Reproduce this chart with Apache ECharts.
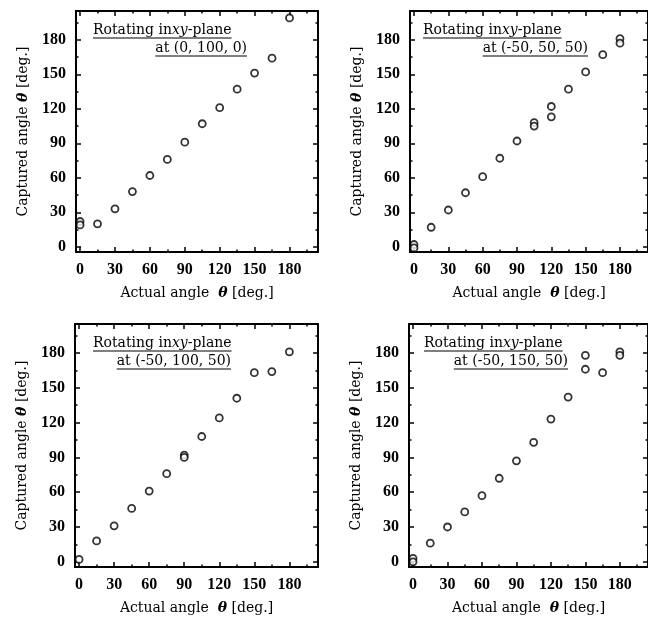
<!DOCTYPE html>
<html><head><meta charset="utf-8">
<script src="https://cdn.jsdelivr.net/npm/echarts@6/dist/echarts.min.js"></script>
<style>html,body{margin:0;padding:0;background:#fff}#c{width:648px;height:624px}</style>
</head><body><div id="c"></div>
<script>
// ---- data ----
const p1X = [0, 0, 15, 30, 45, 60, 75, 90, 105, 120, 135, 150, 165, 180];
const p1Y = [22, 19, 20, 33, 48, 62, 76, 91, 107, 121, 137, 151, 164, 199];
const p2X = [0, 0, 15, 30, 45, 60, 75, 90, 105, 105, 120, 120, 135, 150, 165, 180, 180];
const p2Y = [2, -1, 17, 32, 47, 61, 77, 92, 108, 105, 122, 113, 137, 152, 167, 181, 177];
const p3X = [0, 15, 30, 45, 60, 75, 90, 90, 105, 120, 135, 150, 165, 180];
const p3Y = [2, 18, 31, 46, 61, 76, 92, 90, 108, 124, 141, 163, 164, 181];
const p4X = [0, 0, 15, 30, 45, 60, 75, 90, 105, 120, 135, 150, 150, 165, 180, 180];
const p4Y = [3, 0, 16, 30, 43, 57, 72, 87, 103, 123, 142, 178, 166, 163, 181, 178];
const majorTicks = [0, 30, 60, 90, 120, 150, 180];
const minorTicks = [15, 45, 75, 105, 135, 165, 195];
const annotationLine1 = 'Rotating in';
const annotationLine1Italic = 'xy';
const annotationLine1End = '-plane';
const annotationLine2 = ['at (0, 100, 0)', 'at (-50, 50, 50)', 'at (-50, 100, 50)', 'at (-50, 150, 50)'];
const xTitle = 'Actual angle  {i|θ} [deg.]';
const yTitle = 'Captured angle {i|θ} [deg.]';

// ---- layout ----
const grids = [
  {left: 76, top: 11, width: 242, height: 241},
  {left: 410, top: 11, width: 240, height: 241},
  {left: 75, top: 324, width: 243, height: 243},
  {left: 409, top: 324, width: 241, height: 243}
];
const annoPos = [
  {x1: 93, b1: 37, x2r: 247, b2: 55},
  {x1: 423, b1: 37, x2r: 588, b2: 55},
  {x1: 93, b1: 350, x2r: 231, b2: 368},
  {x1: 424, b1: 350, x2r: 568, b2: 368}
];
const X_MIN = -3.5, X_MAX = 204.5, Y_MIN = -4.5, Y_MAX = 205;
const serif = 'DejaVu Serif';
const tickFont = {fontFamily: 'Liberation Serif', fontWeight: 'bold', fontSize: 16, color: '#000'};
const titleStyle = {fontFamily: serif, fontSize: 14, color: '#000',
  rich: {i: {fontFamily: serif, fontSize: 14, fontStyle: 'italic', fontWeight: 'bold', color: '#000'}}};
const lineW = 2;

const data = [[p1X, p1Y], [p2X, p2Y], [p3X, p3Y], [p4X, p4Y]];
const xAxis = [], yAxis = [], series = [];
grids.forEach((g, i) => {
  const base = {gridIndex: i, type: 'value', splitLine: {show: false}};
  const mk = (pos, isMain, ticks, len, showLine, dimMin, dimMax) => Object.assign({}, base, {
    position: pos, min: dimMin, max: dimMax,
    axisLine: {show: showLine, onZero: false, lineStyle: {color: '#000', width: lineW}},
    axisTick: {show: true, inside: true, length: len, customValues: ticks, lineStyle: {color: '#000', width: 1.5}},
    axisLabel: isMain ? Object.assign({show: true, customValues: majorTicks, margin: 10}, tickFont) : {show: false},
    axisPointer: {show: false}
  });
  const xm = mk('bottom', true, majorTicks, 5, true, X_MIN, X_MAX);
  xm.name = xTitle; xm.nameLocation = 'middle'; xm.nameGap = 34; xm.nameTextStyle = titleStyle;
  xAxis.push(xm, mk('top', false, majorTicks, 5, true, X_MIN, X_MAX),
    mk('bottom', false, minorTicks, 2.5, false, X_MIN, X_MAX), mk('top', false, minorTicks, 2.5, false, X_MIN, X_MAX));
  const ym = mk('left', true, majorTicks, 5, true, Y_MIN, Y_MAX);
  ym.name = yTitle; ym.nameLocation = 'middle'; ym.nameGap = 46; ym.nameTextStyle = titleStyle;
  yAxis.push(ym, mk('right', false, majorTicks, 5, true, Y_MIN, Y_MAX),
    mk('left', false, minorTicks, 2.5, false, Y_MIN, Y_MAX), mk('right', false, minorTicks, 2.5, false, Y_MIN, Y_MAX));
  const [xs, ys] = data[i];
  series.push({
    type: 'scatter', xAxisIndex: i * 4, yAxisIndex: i * 4,
    data: xs.map((x, k) => [x, ys[k]]),
    symbol: 'circle', symbolSize: 7,
    itemStyle: {color: '#fff', borderColor: '#000', borderWidth: 1.8},
    emphasis: {disabled: true}, z: 5
  });
});

// annotations with underline
const cv = document.createElement('canvas').getContext('2d');
function w(text, style) { cv.font = style; return cv.measureText(text).width; }
const annoSize = 14;
const fN = annoSize + 'px "' + serif + '"';
const fI = 'italic ' + annoSize + 'px "' + serif + '"';
const graphic = [];
annoPos.forEach((p, i) => {
  const wa = w(annotationLine1, fN), wb = w(annotationLine1Italic, fI), wc = w(annotationLine1End, fN);
  let x = p.x1;
  [[annotationLine1, 'normal', wa], [annotationLine1Italic, 'italic', wb], [annotationLine1End, 'normal', wc]].forEach(([t, st, ww]) => {
    graphic.push({type: 'text', x: x, y: p.b1, style: {text: t, fill: '#000', fontFamily: serif, fontSize: annoSize, fontStyle: st, verticalAlign: 'bottom', align: 'left'}});
    x += ww;
  });
  graphic.push({type: 'line', shape: {x1: p.x1, y1: p.b1 + 1, x2: x, y2: p.b1 + 1}, style: {stroke: '#000', lineWidth: 1.2}});
  const w2 = w(annotationLine2[i], fN);
  graphic.push({type: 'text', x: p.x2r, y: p.b2, style: {text: annotationLine2[i], fill: '#000', fontFamily: serif, fontSize: annoSize, verticalAlign: 'bottom', align: 'right'}});
  graphic.push({type: 'line', shape: {x1: p.x2r - w2, y1: p.b2 + 1, x2: p.x2r, y2: p.b2 + 1}, style: {stroke: '#000', lineWidth: 1.2}});
});

const chart = echarts.init(document.getElementById('c'), null, {renderer: 'canvas'});
chart.setOption({
  animation: false,
  backgroundColor: '#fff',
  grid: grids.map(g => Object.assign({containLabel: false}, g)),
  xAxis, yAxis, series, graphic
});
</script></body></html>
